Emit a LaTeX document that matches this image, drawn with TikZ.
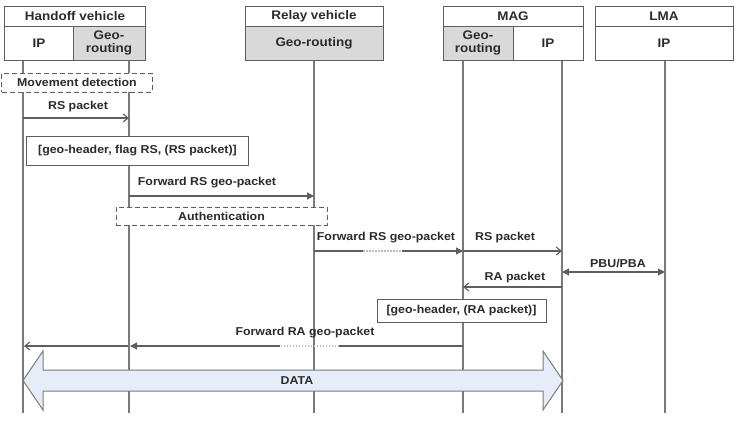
\documentclass[tikz,border=0pt]{standalone}
\usepackage{fontspec}
\setmainfont{Liberation Sans}[FakeStretch=1.08]
\usetikzlibrary{arrows.meta}
\definecolor{txt}{HTML}{2B2B2B}
\definecolor{ln}{HTML}{5E5E5E}
\definecolor{lifec}{HTML}{7A7A7A}
\definecolor{geofill}{HTML}{D9D9D9}
\definecolor{databl}{HTML}{E6EDF8}
\definecolor{dotc}{HTML}{BDBDBD}
\begin{document}
\begin{tikzpicture}[x=1bp,y=-1bp,
  every node/.style={text=txt},
  cell/.style={draw=ln, line width=1bp, inner sep=0pt, align=center,
    font=\bfseries\fontsize{12.5}{13.5}\selectfont},
  lbl/.style={inner sep=0pt, font=\bfseries\fontsize{11.5}{13}\selectfont},
  dbox/.style={draw=ln, line width=1bp, dash pattern=on 5bp off 3bp, fill=white, inner sep=0pt,
    font=\bfseries\fontsize{11.5}{13}\selectfont},
  sbox/.style={draw=ln, line width=1bp, fill=white, inner sep=0pt,
    font=\bfseries\fontsize{11.5}{13}\selectfont},
  lifeline/.style={draw=lifec, line width=1.2bp},
  msg/.style={draw=ln, line width=1.1bp},
  openarr/.style={msg, -{Straight Barb[length=5bp,width=8bp]}},
  fillarr/.style={msg, -{Triangle[length=7bp,width=7bp]}},
  dotseg/.style={draw=dotc, line width=1.1bp, dash pattern=on 1.5bp off 1.5bp}
]
\useasboundingbox (0,0) rectangle (738,423);

% lifeline coordinates
\coordinate (a1) at (23,60);  \coordinate (a2) at (23,413);
\coordinate (b1) at (129,60); \coordinate (b2) at (129,413);
\coordinate (c1) at (314,60); \coordinate (c2) at (314,413);
\coordinate (d1) at (463,60); \coordinate (d2) at (463,413);
\coordinate (e1) at (562,60); \coordinate (e2) at (562,413);
\coordinate (f1) at (665,60); \coordinate (f2) at (665,413);
\foreach \t/\b in {a1/a2,b1/b2,c1/c2,d1/d2,e1/e2,f1/f2}
  \draw[lifeline] (\t) -- (\b);

% header boxes
\node[cell, minimum width=140bp, minimum height=20bp] (hvh) at (75,16) {Handoff vehicle};
\node[cell, minimum width=68bp, minimum height=34bp, fill=white] (hvip) at (39,43) {IP};
\node[cell, minimum width=72bp, minimum height=34bp, fill=geofill] (hvgeo) at (109,43) {Geo-\\routing};
\node[cell, minimum width=138bp, minimum height=20bp] (rvh) at (314,16) {Relay vehicle};
\node[cell, minimum width=138bp, minimum height=34bp, fill=geofill] (rvgeo) at (314,43) {Geo-routing};
\node[cell, minimum width=140bp, minimum height=20bp] (magh) at (513,16) {MAG};
\node[cell, minimum width=70bp, minimum height=34bp, fill=geofill] (maggeo) at (478,43) {Geo-\\routing};
\node[cell, minimum width=70bp, minimum height=34bp, fill=white] (magip) at (548,43) {IP};
\node[cell, minimum width=138bp, minimum height=20bp] (lmah) at (664,16) {LMA};
\node[cell, minimum width=138bp, minimum height=34bp, fill=white] (lmaip) at (664,43) {IP};

% boxes over lifelines
\node[dbox, minimum width=150bp, minimum height=19bp] (move) at (77,82.5) {Movement detection};
\node[sbox, minimum width=221bp, minimum height=29bp] (grs) at (137.5,151) {[geo-header, flag RS, (RS packet)]};
\node[dbox, minimum width=211bp, minimum height=18bp] (auth) at (221.5,216) {Authentication};
\node[sbox, minimum width=169bp, minimum height=23bp] (gra) at (461.5,310.5) {[geo-header, (RA packet)]};

% RS packet
\coordinate (m1a) at (23,118); \coordinate (m1b) at (129,118);
\draw[openarr] (m1a) -- (m1b);
\node[lbl] (m1l) at (78,107) {RS packet};

% Forward RS geo-packet 1
\coordinate (m2a) at (129,196); \coordinate (m2b) at (314,196);
\draw[fillarr] (m2a) -- (m2b);
\node[lbl] (m2l) at (207,183) {Forward RS geo-packet};

% Forward RS geo-packet 2 (with dotted gap)
\coordinate (m3a) at (314,251); \coordinate (m3g1) at (363,251);
\coordinate (m3g2) at (402,251); \coordinate (m3b) at (463,251);
\draw[msg] (m3a) -- (m3g1);
\draw[dotseg] (m3g1) -- (m3g2);
\draw[fillarr] (m3g2) -- (m3b);
\node[lbl] (m3l) at (386,238) {Forward RS geo-packet};

% RS packet 2
\coordinate (m4a) at (463,251); \coordinate (m4b) at (562,251);
\draw[openarr] (m4a) -- (m4b);
\node[lbl] (m4l) at (505,238) {RS packet};

% PBU/PBA
\coordinate (m5a) at (562,272); \coordinate (m5b) at (665,272);
\draw[msg, {Triangle[length=7bp,width=7bp]}-{Triangle[length=7bp,width=7bp]}] (m5a) -- (m5b);
\node[lbl] (m5l) at (618,263) {PBU/PBA};

% RA packet
\coordinate (m6a) at (562,287); \coordinate (m6b) at (463,287);
\draw[openarr] (m6a) -- (m6b);
\node[lbl] (m6l) at (515,278) {RA packet};

% Forward RA geo-packet (with dotted gap)
\coordinate (m7a) at (463,346); \coordinate (m7g1) at (339,346);
\coordinate (m7g2) at (280,346); \coordinate (m7b) at (130,346);
\draw[msg] (m7a) -- (m7g1);
\draw[dotseg] (m7g1) -- (m7g2);
\draw[fillarr] (m7g2) -- (m7b);
\node[lbl] (m7l) at (305,333) {Forward RA geo-packet};

% IP delivery
\coordinate (m8a) at (128,346); \coordinate (m8b) at (24,346);
\draw[openarr] (m8a) -- (m8b);

% DATA arrow
\draw[draw=lifec, line width=1bp, fill=databl]
  (23,380.5) -- (43,351) -- (43,370) -- (543,370) -- (543,351) -- (563,380.5)
  -- (543,410) -- (543,391) -- (43,391) -- (43,410) -- cycle;
\node[lbl] (data) at (297,381) {DATA};
\end{tikzpicture}
\end{document}
